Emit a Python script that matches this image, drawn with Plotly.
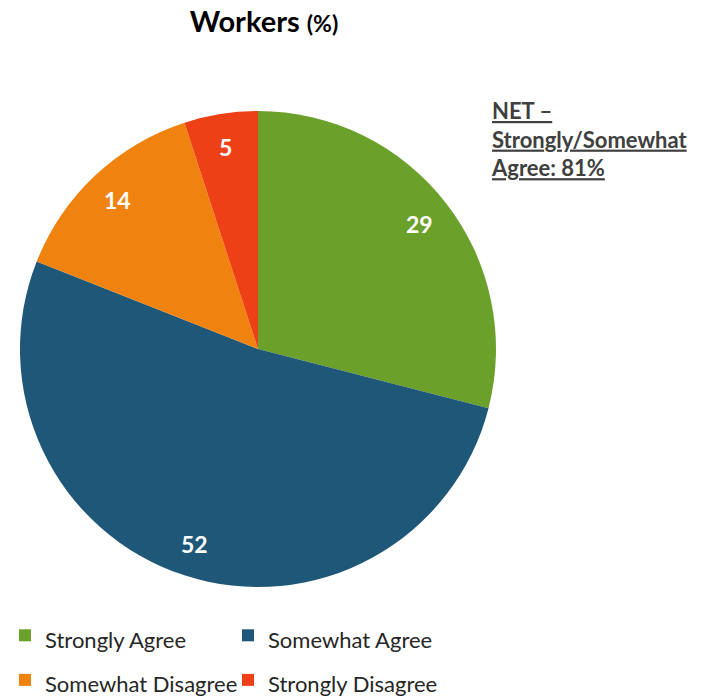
import math
import plotly.graph_objects as go

categories = ["Strongly Agree", "Somewhat Agree", "Somewhat Disagree", "Strongly Disagree"]
values = [29, 52, 14, 5]
colors = ["#6BA02A", "#1E5778", "#F08210", "#EE4017"]
title_text = "Workers"
title_unit = "(%)"
net_note = ["NET –", "Strongly/Somewhat", "Agree: 81%"]

W, H = 708, 698
R_MARGIN = 208
plot_w = W - R_MARGIN
# pie domain (paper fractions)
dom_x = [20 / plot_w, 496 / plot_w]
dom_y = [(H - 587) / H, (H - 111) / H]
LABEL_R = 0.86  # label distance as fraction of radius

fig = go.Figure(go.Pie(
    labels=[f"<span style='font-size:22px'>{c}</span>" for c in categories],
    values=values,
    marker=dict(colors=colors, line=dict(width=0)),
    sort=False,
    direction="clockwise",
    rotation=0,
    textinfo="none",
    hovertext=categories,
    hoverinfo="text+value",
    domain=dict(x=dom_x, y=dom_y),
    showlegend=True,
))

# value labels placed along each slice's bisector, derived from the values
cx_px = plot_w * (dom_x[0] + dom_x[1]) / 2
cy_px = H * (dom_y[0] + dom_y[1]) / 2
rad_px = min(plot_w * (dom_x[1] - dom_x[0]), H * (dom_y[1] - dom_y[0])) / 2
total = sum(values)
annotations = []
cum = 0
for v in values:
    mid = (cum + v / 2) / total * 2 * math.pi
    cum += v
    px = cx_px + LABEL_R * rad_px * math.sin(mid)
    py = cy_px + LABEL_R * rad_px * math.cos(mid)
    annotations.append(dict(
        text=f"<b>{v}</b>", x=px / plot_w, y=py / H,
        xref="paper", yref="paper", showarrow=False,
        xanchor="center", yanchor="middle",
        font=dict(family="Lato", size=23, color="white"),
    ))

annotations.append(dict(
    text="<br>".join(f"<b><u>{t}</u></b>" for t in net_note),
    xref="paper", yref="paper",
    x=489 / plot_w, y=(H - 95) / H,
    xanchor="left", yanchor="top", align="left",
    showarrow=False,
    font=dict(family="Lato", size=22, color="#404040"),
))

fig.update_layout(
    width=W, height=H,
    margin=dict(l=0, r=R_MARGIN, t=0, b=0, autoexpand=False),
    paper_bgcolor="white", plot_bgcolor="white",
    font=dict(family="Lato", color="#262626"),
    title=dict(
        text=f"<b>{title_text} <span style='font-size:23px'>{title_unit}</span></b>",
        font=dict(family="Lato", size=29, color="black"),
        xref="container", x=264 / W, xanchor="center",
        yref="container", y=1 - 22 / H, yanchor="middle",
    ),
    legend=dict(
        orientation="h",
        x=5 / plot_w, xanchor="left",
        y=(H - 608) / H, yanchor="top",
        font=dict(family="Lato", size=32, color="#262626"),
        entrywidth=178, entrywidthmode="pixels",
        traceorder="normal",
    ),
    annotations=annotations,
)

fig.write_html(
    "out.html",
    config={"displayModeBar": False},
    post_script="document.body.style.margin='0';document.body.style.overflow='hidden';",
)
